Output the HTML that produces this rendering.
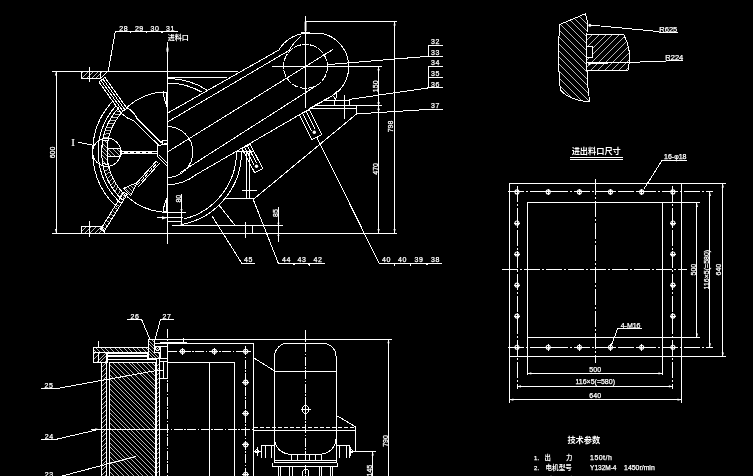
<!DOCTYPE html>
<html lang="zh"><head><meta charset="utf-8"><title>CAD drawing</title><style>
html,body{margin:0;padding:0;background:#000;}
body{width:753px;height:476px;overflow:hidden;}
svg{display:block;filter:grayscale(1)}
path,circle,ellipse{fill:none;stroke:#fff;stroke-width:1;shape-rendering:crispEdges}
.h{stroke-width:.72;stroke:#fff}
.hf{stroke-width:.72;stroke:#fff}
.hb{stroke-width:.9;stroke:#fff}
.d{stroke-dasharray:9 1.5 1.5 1.5}
.dl{stroke-dasharray:16 2 2 2}
.ho{shape-rendering:geometricPrecision;stroke-width:1.1}
.dd{stroke-dasharray:4 2}
.dp{stroke-dasharray:7 1.3}
.ts{font-family:"Liberation Serif",serif;fill:#fff;stroke:#fff;stroke-width:.2}
.fa{fill:#fff;stroke:none;shape-rendering:auto}
.t{font-family:"Liberation Sans","Noto Sans CJK SC",sans-serif;fill:#fff;stroke:#fff;stroke-width:.25}
.tc{font-family:"Liberation Sans","Noto Sans CJK SC",sans-serif;fill:#fff;stroke:none;font-weight:bold}
</style></head><body><svg width="753" height="476" viewBox="0 0 753 476"><rect width="753" height="476" fill="#000"/><defs><clipPath id="c1"><path d="M81.5 71.4L81.5 78.3L100.7 78.3L107.9 71.4Z"/></clipPath><clipPath id="c2"><path d="M81.5 233L81.5 226.3L101.5 226.3L105 233Z"/></clipPath><clipPath id="c3"><path d="M104 231.5L127.2 194.2L123.8 192L100.6 229.3Z"/></clipPath><clipPath id="c4"><path d="M123.6 188.4L130.6 195.8L137.1 182.5Z"/></clipPath><clipPath id="c5"><path d="M102.4 141L107.8 140L107.6 148.2L119.4 148.2L121.8 151.2L121.8 153.4L119.4 156.2L107.6 156.2L107.8 164.6L102.4 163.6L101.7 152.3Z"/></clipPath><clipPath id="c6"><path d="M559.9 24.4L585.3 13.8L587.5 21.5Q585.6 46 587 71Q587.6 88 589.7 102L578.7 100.3Q566 97 560.6 89.9Q559.3 84 559.3 77.8Q557.4 50 559.9 24.4Z"/></clipPath><clipPath id="c7"><path d="M586.5 34.5L623.8 34.5Q633 52 627.8 70.8L586.5 70.8Z"/></clipPath><clipPath id="c8"><path d="M93.4 347.3L148.6 347.3L148.6 352.6L93.4 352.6Z"/></clipPath><clipPath id="c9"><path d="M93.4 352.6L106.5 352.6L106.5 362.6L93.4 362.6Z"/></clipPath><clipPath id="c10"><path d="M101.7 362.6L106.5 362.6L106.5 480L101.7 480Z"/></clipPath><clipPath id="c11"><path d="M109.4 362.2L155 362.2L155 480L109.4 480Z"/></clipPath><clipPath id="c12"><path d="M156.6 361.7L159.3 361.7L159.3 480L156.6 480Z"/></clipPath><clipPath id="c13"><path d="M148.6 339.9L154.2 339.9L154.2 352.6L159.2 352.6L159.2 358.2L148.6 358.2Z"/></clipPath></defs>
<path d="M52.3 71.4L237.8 71.4"/>
<path d="M52.3 233.4L396.8 233.4"/>
<path d="M56 71.4L56 233"/>
<path class="fa" d="M56 71.4L54.9 75.4L57.1 75.4Z"/>
<path class="fa" d="M56 233L54.9 229L57.1 229Z"/>
<text class="t" x="55" y="152.5" font-size="7" text-anchor="middle" transform="rotate(-90 55 152.5)">600</text>
<path d="M167.5 42L167.5 244"/>
<ellipse class="fa" cx="167.5" cy="49.5" rx="1.1" ry="2.8"/>
<text class="tc" x="167.8" y="40.4" font-size="7" text-anchor="start">进料口</text>
<path d="M108 72.3L115.4 31L178 31"/>
<text class="t" x="123.7" y="31" font-size="7" text-anchor="middle" letter-spacing=".5">28</text>
<text class="t" x="139.3" y="31" font-size="7" text-anchor="middle" letter-spacing=".5">29</text>
<text class="t" x="154.9" y="31" font-size="7" text-anchor="middle" letter-spacing=".5">30</text>
<text class="t" x="170.4" y="31" font-size="7" text-anchor="middle" letter-spacing=".5">31</text>
<path d="M129.6 31L130.8 32.6L132 31"/>
<path d="M145.3 31L146.5 32.6L147.7 31"/>
<path d="M160.8 31L162 32.6L163.2 31"/>
<path d="M81.5 71.4L81.5 78.3L100.7 78.3L107.9 71.4"/>
<path d="M100.7 71.4L100.7 78.3"/>
<path class="h" clip-path="url(#c1)" d="M71.6 73.9L93.7 51.8M74 76.3L96.1 54.2M76.4 78.7L98.5 56.6M78.8 81.1L101 59M81.2 83.5L103.4 61.4M83.6 85.9L105.8 63.8M86 88.3L108.2 66.2M88.4 90.7L110.6 68.6M90.9 93.1L113 71M93.3 95.5L115.4 73.4M95.7 97.9L117.8 75.8"/>
<path d="M89.5 67L89.5 82"/>
<path d="M81.5 233L81.5 226.3L101.5 226.3L105 233"/>
<path class="h" clip-path="url(#c2)" d="M71.2 227.7L91.3 207.6M73.6 230.1L93.7 210M76 232.5L96.1 212.4M78.4 234.9L98.5 214.8M80.8 237.3L100.9 217.2M83.2 239.7L103.3 219.6M85.6 242.1L105.7 222M88 244.5L108.1 224.4M90.4 246.9L110.5 226.8M92.8 249.3L112.9 229.2M95.2 251.7L115.3 231.6"/>
<path d="M89.5 221.2L89.5 237.4"/>
<path d="M98.9 81.8L120.9 112.6"/>
<path d="M104.9 77.4L126.9 108.2"/>
<path d="M98.9 81.8L104.9 77.4"/>
<path d="M120.9 112.6L126.9 108.2"/>
<path d="M100.9 80.3L122.9 111.1"/>
<path d="M102.9 78.9L124.9 109.7"/>
<path d="M121.2 113.4Q127 118.6 133.9 121"/>
<path d="M127 107.7Q134.4 112 136.8 118.1"/>
<path d="M133.9 121L158.6 145.2"/>
<path d="M136.8 118.1L161.6 143"/>
<path d="M104 231.5L127.2 194.2"/>
<path d="M100.6 229.3L123.8 192"/>
<path d="M104 231.5L100.6 229.3"/>
<path d="M127.2 194.2L123.8 192"/>
<path class="h" clip-path="url(#c3)" d="M106.1 175.6L149.8 202.8M104.1 178.8L147.8 206M102 182L145.8 209.2M100 185.2L143.8 212.5M98 188.5L141.8 215.7M96 191.7L139.8 218.9M94 194.9L137.8 222.1M92 198.1L135.8 225.4M90 201.4L133.8 228.6M88 204.6L131.8 231.8M86 207.8L129.8 235M84 211L127.8 238.3M82 214.3L125.8 241.5M80 217.5L123.7 244.7M78 220.7L121.7 247.9"/>
<path d="M123.6 188.4L130.6 195.8L137.1 182.5Z"/>
<path class="h" clip-path="url(#c4)" d="M132.4 171.2L148.4 187.7M130.4 173.1L146.4 189.6M128.4 175.1L144.4 191.6M126.4 177L142.3 193.5M124.4 179L140.3 195.5M122.4 180.9L138.3 197.4M120.4 182.8L136.3 199.3M118.4 184.8L134.3 201.3M116.3 186.7L132.3 203.2M114.3 188.7L130.3 205.2M112.3 190.6L128.3 207.1"/>
<path d="M135.8 183.9L156.4 161"/>
<path d="M138.5 186.6L159.8 163"/>
<path class="dd" d="M137.2 185.2L158 162"/>
<path d="M117.4 207.6A74.8 74.8 0 0 1 111.5 102.4"/>
<path d="M120.7 203A69.2 69.2 0 0 1 116.1 105.7"/>
<path d="M122.6 200.1A65.8 65.8 0 0 1 119 107.5"/>
<path d="M125.9 195.8A60.4 60.4 0 0 1 123.3 110.8"/>
<path class="h" d="M124.8 194.7L122.6 200.1M122.4 192.2L119.9 197.5M120.2 189.5L117.4 194.6M118.1 186.7L115 191.7M116.2 183.8L112.8 188.6M114.4 180.8L110.8 185.4M112.8 177.7L109 182.1M111.5 174.5L107.3 178.7M110.3 171.3L105.9 175.2M109.2 167.9L104.7 171.6M109 137L103.2 137.9M110 133.6L104.2 134.2M111.1 130.4L105.3 130.6M112.5 127.1L106.6 127M114 124L108.2 123.6M115.7 121L109.9 120.2M117.5 118.1L111.8 116.9M119.6 115.2L113.9 113.8M121.8 112.5L116.2 110.8"/>
<path d="M126.8 107.6A60.2 60.2 0 0 1 163.8 91.9"/>
<path d="M126.8 196.4A60.2 60.2 0 0 0 162.3 212"/>
<path d="M163.7 92.4L166.9 92.4L166.9 106.5L165.2 102L163.9 97Z"/>
<path d="M163.7 211.8L166.9 211.8L166.9 198.4L165.2 202.5L163.9 207Z"/>
<circle cx="106.8" cy="152.2" r="14.1"/>
<text class="ts" x="73.2" y="146.4" font-size="11" text-anchor="middle">I</text>
<path d="M78.5 142.3L93.7 145.3"/>
<path d="M102.4 141L107.8 140L107.6 148.2L119.4 148.2L121.8 151.2L121.8 153.4L119.4 156.2L107.6 156.2L107.8 164.6L102.4 163.6L101.7 152.3Z"/>
<path class="h" clip-path="url(#c5)" d="M111.8 126.9L137.1 152.2M109.7 129L135 154.3M107.6 131.2L132.9 156.5M105.5 133.3L130.8 158.6M103.3 135.4L128.6 160.7M101.2 137.5L126.5 162.8M99.1 139.7L124.4 164.9M97 141.8L122.3 167.1M94.9 143.9L120.2 169.2M92.7 146L118 171.3M90.6 148.1L115.9 173.4M88.5 150.3L113.8 175.6M86.4 152.4L111.7 177.7"/>
<path d="M107.6 148.2L107.6 156.2"/>
<path d="M121 151.2L155.7 151.2"/>
<path d="M121 153.6L155.7 153.6"/>
<path class="dd" d="M124 152.4L154 152.4"/>
<path d="M161.2 141.8L162.6 140.5L166.9 140.5"/>
<path d="M162.6 140.5L162.6 144.6L166.9 144.6"/>
<path d="M157.8 144.6L157.1 146.6L157.1 156.2L166.7 165.7"/>
<path d="M157.8 146L166.9 143.3"/>
<path d="M158.8 154.6L166.9 162.8"/>
<path d="M155.7 151.2L157.1 151.2"/>
<path d="M155.7 153.6L157.1 153.6"/>
<path d="M167.5 77.9L226.8 77.9"/>
<path d="M167.5 78.5A73.5 73.5 0 0 1 207.3 90.2"/>
<path d="M167.5 83A69 69 0 0 1 201.6 92"/>
<path d="M167.5 113.2L279 49.9"/>
<path d="M167.5 122L289 50.5"/>
<path d="M167.5 152L333 49.4"/>
<path d="M179.9 172.8L317.1 85.2"/>
<path d="M167.5 184.8Q184 184.2 196 174.7L331.9 96"/>
<path d="M167.5 126.6A25.4 25.4 0 0 1 167.5 177.4"/>
<circle class="dp" cx="305.5" cy="66.4" r="22"/>
<path d="M272 66.3L382 66.3"/>
<path d="M305.5 16L305.5 107.5"/>
<rect class="fa" x="304.6" y="21.6" width="1.9" height="9.5"/>
<path d="M279 49.9A33 33 0 0 1 305.5 33.4L322 33.4A34 34 0 0 1 331.9 96"/>
<path d="M289 50.5Q293.5 42.5 301.5 35.7"/>
<path d="M301.5 34.3L301.5 32.2L309.4 32.2L309.4 34.3"/>
<path d="M305.5 21.6L397.2 21.6"/>
<path d="M394.6 21.6L394.6 233"/>
<path class="fa" d="M394.6 21.6L393.5 25.6L395.7 25.6Z"/>
<path class="fa" d="M394.6 233L393.5 229L395.7 229Z"/>
<text class="t" x="393.3" y="126.5" font-size="7" text-anchor="middle" transform="rotate(-90 393.3 126.5)">798</text>
<path d="M378.6 66.3L378.6 233"/>
<circle class="fa" cx="378.6" cy="69.8" r="1.15"/>
<circle class="fa" cx="378.6" cy="102.9" r="1.15"/>
<circle class="fa" cx="378.6" cy="109.5" r="1.15"/>
<path class="fa" d="M378.6 233L377.5 229L379.7 229Z"/>
<text class="t" x="377.6" y="86.3" font-size="7" text-anchor="middle" transform="rotate(-90 377.6 86.3)">150</text>
<text class="t" x="377.6" y="168.9" font-size="7" text-anchor="middle" transform="rotate(-90 377.6 168.9)">470</text>
<path d="M323.2 100.6L334.3 100.6"/>
<path d="M334.3 100.3L349.4 100.3L349.4 105.9L334.3 105.9Z"/>
<path d="M314.3 105.9L382 105.9"/>
<path d="M309.8 108.8L357.1 108.8"/>
<path d="M356.6 105.9L356.6 113.9"/>
<path d="M344.6 94.7L344.6 118.7"/>
<path d="M332.7 95.5L336.6 91.5L335.9 99.5Z"/>
<path d="M254.3 198.6L356.6 113.9"/>
<path d="M309.5 108.3L332.7 95.5"/>
<path d="M327.4 64.6L428.2 56.3"/>
<path d="M428.2 45.2L428.2 56.3"/>
<path d="M428.2 45.2L442.8 45.2"/>
<path d="M428.2 56.3L442.8 56.3"/>
<path d="M428.2 66.5L428.2 87.9"/>
<path d="M428.2 66.5L442.8 66.5"/>
<path d="M428.2 77.3L442.8 77.3"/>
<path d="M428.2 87.9L442.8 87.9"/>
<path d="M348.6 99.5L428.2 87.9"/>
<path d="M356.6 113.9L428.4 109.4L442.8 109.4"/>
<text class="t" x="435.5" y="43.9" font-size="7" text-anchor="middle" letter-spacing=".5">32</text>
<text class="t" x="435.5" y="55" font-size="7" text-anchor="middle" letter-spacing=".5">33</text>
<text class="t" x="435.5" y="65.2" font-size="7" text-anchor="middle" letter-spacing=".5">34</text>
<text class="t" x="435.5" y="76" font-size="7" text-anchor="middle" letter-spacing=".5">35</text>
<text class="t" x="435.5" y="86.6" font-size="7" text-anchor="middle" letter-spacing=".5">36</text>
<text class="t" x="435.5" y="108.1" font-size="7" text-anchor="middle" letter-spacing=".5">37</text>
<path d="M242 148.6L254.7 172.8L262.8 168.6L250.2 144.4Z"/>
<path d="M244.7 147.2L253.8 164.7"/>
<path d="M247.5 145.8L256.6 163.2"/>
<circle class="fa" cx="256.5" cy="166.2" r="1.7"/>
<path d="M299.3 114.8L311.7 139.5L321.7 134.5L309.3 109.8Z"/>
<path d="M302.5 113.2L311.5 131"/>
<path d="M306.1 111.4L315 129.2"/>
<circle class="fa" cx="314.3" cy="132.2" r="1.7"/>
<path d="M241.5 151.6A74 74 0 0 1 182.1 224.5"/>
<path d="M236.5 151.6A69 69 0 0 1 183.5 219.1"/>
<path d="M236.5 151.5L253.7 151.5"/>
<path d="M246.3 151.5L246.3 198.6"/>
<path d="M249.5 151.5L249.5 198.6"/>
<path d="M224.6 198.6L254.3 198.6"/>
<path d="M242.3 190.5L256.7 190.5"/>
<path d="M219 205.1L235.3 225.8"/>
<path d="M172 225.8L282.8 225.8"/>
<path d="M161.6 212.5L185.5 212.5"/>
<path d="M156.8 217.8L183.4 217.8"/>
<path d="M168 221.3L182 221.3"/>
<path d="M181.5 194L181.5 225.8"/>
<path class="fa" d="M181.5 212.5L180.4 209L182.6 209Z"/>
<path class="fa" d="M181.5 221.3L180.4 224.8L182.6 224.8Z"/>
<text class="t" x="180.9" y="198.7" font-size="7" text-anchor="middle" transform="rotate(-90 180.9 198.7)">80</text>
<path class="fa" d="M167.3 217.8L162 216.2L162 219.4Z"/>
<path d="M245.9 221.5L245.9 237.5"/>
<path d="M252.9 225.8L252.9 233"/>
<path d="M278.4 207L278.4 241.9"/>
<path class="fa" d="M278.4 225.8L277.3 222.8L279.5 222.8Z"/>
<path class="fa" d="M278.4 233L277.3 236L279.5 236Z"/>
<text class="t" x="277.9" y="213" font-size="7" text-anchor="middle" transform="rotate(-90 277.9 213)">85</text>
<path d="M212 216L241.9 263.4L254.9 263.4"/>
<text class="t" x="248.5" y="262.4" font-size="7" text-anchor="middle" letter-spacing=".5">45</text>
<path d="M252.9 198.6L278.4 263.4L325.3 263.4"/>
<text class="t" x="286.4" y="262.4" font-size="7" text-anchor="middle" letter-spacing=".5">44</text>
<text class="t" x="301.9" y="262.4" font-size="7" text-anchor="middle" letter-spacing=".5">43</text>
<text class="t" x="317.9" y="262.4" font-size="7" text-anchor="middle" letter-spacing=".5">42</text>
<path d="M292.6 263.4L293.8 265L295 263.4"/>
<path d="M308.1 263.4L309.3 265L310.5 263.4"/>
<path d="M316.7 137L379.2 263.4L442.1 263.4"/>
<text class="t" x="386.4" y="262.4" font-size="7" text-anchor="middle" letter-spacing=".5">40</text>
<text class="t" x="402.4" y="262.4" font-size="7" text-anchor="middle" letter-spacing=".5">40</text>
<text class="t" x="418.9" y="262.4" font-size="7" text-anchor="middle" letter-spacing=".5">39</text>
<text class="t" x="435.4" y="262.4" font-size="7" text-anchor="middle" letter-spacing=".5">38</text>
<path d="M393.3 263.4L394.5 265L395.7 263.4"/>
<path d="M409.3 263.4L410.5 265L411.7 263.4"/>
<path d="M425.8 263.4L427 265L428.2 263.4"/>
<path d="M559.9 24.4L585.3 13.8L587.5 21.5Q585.6 46 587 71Q587.6 88 589.7 102L578.7 100.3Q566 97 560.6 89.9Q559.3 84 559.3 77.8Q557.4 50 559.9 24.4Z"/>
<path class="h" clip-path="url(#c6)" d="M573 -10.9L641.5 57.6M569.5 -7.5L638.1 61.1M566.1 -4.1L634.7 64.5M562.7 -0.6L631.2 67.9M559.3 2.8L627.8 71.3M555.8 6.2L624.4 74.8M552.4 9.7L620.9 78.2M549 13.1L617.5 81.6M545.5 16.5L614.1 85.1M542.1 19.9L610.7 88.5M538.7 23.4L607.2 91.9M535.2 26.8L603.8 95.4M531.8 30.2L600.4 98.8M528.4 33.7L596.9 102.2M525 37.1L593.5 105.6M521.5 40.5L590.1 109.1M518.1 44L586.6 112.5M514.7 47.4L583.2 115.9M511.2 50.8L579.8 119.4M507.8 54.2L576.4 122.8M504.4 57.7L572.9 126.2"/>
<path d="M587.4 34.5L623.8 34.5Q633 52 627.8 70.8L586.8 70.8"/>
<path class="h" clip-path="url(#c7)" d="M562.8 50.1L606.2 6.7M566.2 53.6L609.7 10.1M569.7 57L613.1 13.6M573.2 60.5L616.6 17.1M576.6 64L620.1 20.5M580.1 67.4L623.5 24M583.6 70.9L627 27.5M587 74.4L630.5 30.9M590.5 77.8L633.9 34.4M594 81.3L637.4 37.9M597.4 84.8L640.9 41.3M600.9 88.2L644.3 44.8M604.4 91.7L647.8 48.3M607.8 95.2L651.3 51.7M611.3 98.6L654.7 55.2"/>
<rect x="586" y="46.9" width="6" height="11" fill="#000" stroke="none"/>
<path d="M586 46.9L592 46.9L592 57.9L586 57.9Z"/>
<path d="M587 62.8L629.6 62.8"/>
<circle class="fa" cx="589.9" cy="25.2" r="1.5"/>
<path d="M589.9 25L659.3 31.6"/>
<path d="M659.3 32.9L677.7 32.9"/>
<text class="t" x="668.3" y="32.2" font-size="7.5" text-anchor="middle">R625</text>
<circle class="fa" cx="589.4" cy="63.8" r="1.4"/>
<path d="M589 63.6L665.7 61.2"/>
<path d="M665.7 60.9L683.3 60.9"/>
<text class="t" x="674.3" y="60.2" font-size="7.5" text-anchor="middle">R224</text>
<text class="tc" x="596.2" y="154.3" font-size="8.2" text-anchor="middle">进出料口尺寸</text>
<path d="M569.8 157.4L622.7 157.4"/>
<path d="M569.8 159.5L622.7 159.5"/>
<path d="M509.4 183.5L725.8 183.5"/>
<path d="M509.4 356.4L725.8 356.4"/>
<path d="M509.4 183.5L509.4 402.9"/>
<path d="M681.5 183.5L681.5 402.9"/>
<path d="M527.3 202.9L699.9 202.9"/>
<path d="M527.3 337.4L699.9 337.4"/>
<path d="M527.3 202.9L527.3 374.9"/>
<path d="M662.5 202.9L662.5 374.9"/>
<path class="dl" d="M508 191.9L712.9 191.9"/>
<path class="dl" d="M508 347.2L712.9 347.2"/>
<path class="dl" d="M517.0 186L517.0 388.9"/>
<path class="dl" d="M672.9 186L672.9 388.9"/>
<path class="dl" d="M595.6 178.9L595.6 362.5"/>
<path class="dl" d="M502.2 269.3L686.9 269.3"/>
<circle class="ho" cx="517" cy="191.9" r="2"/>
<path d="M517 188.5L517 195.3"/>
<path d="M513.6 191.9L520.4 191.9"/>
<circle class="ho" cx="517" cy="223" r="2"/>
<path d="M517 219.6L517 226.4"/>
<path d="M513.6 223L520.4 223"/>
<circle class="ho" cx="517" cy="254" r="2"/>
<path d="M517 250.6L517 257.4"/>
<path d="M513.6 254L520.4 254"/>
<circle class="ho" cx="517" cy="285.1" r="2"/>
<path d="M517 281.7L517 288.5"/>
<path d="M513.6 285.1L520.4 285.1"/>
<circle class="ho" cx="517" cy="316.1" r="2"/>
<path d="M517 312.7L517 319.5"/>
<path d="M513.6 316.1L520.4 316.1"/>
<circle class="ho" cx="517" cy="347.2" r="2"/>
<path d="M517 343.8L517 350.6"/>
<path d="M513.6 347.2L520.4 347.2"/>
<circle class="ho" cx="548.2" cy="191.9" r="2"/>
<path d="M548.2 188.5L548.2 195.3"/>
<path d="M544.8 191.9L551.6 191.9"/>
<circle class="ho" cx="548.2" cy="347.2" r="2"/>
<path d="M548.2 343.8L548.2 350.6"/>
<path d="M544.8 347.2L551.6 347.2"/>
<circle class="ho" cx="579.4" cy="191.9" r="2"/>
<path d="M579.4 188.5L579.4 195.3"/>
<path d="M576 191.9L582.8 191.9"/>
<circle class="ho" cx="579.4" cy="347.2" r="2"/>
<path d="M579.4 343.8L579.4 350.6"/>
<path d="M576 347.2L582.8 347.2"/>
<circle class="ho" cx="610.5" cy="191.9" r="2"/>
<path d="M610.5 188.5L610.5 195.3"/>
<path d="M607.1 191.9L613.9 191.9"/>
<circle class="ho" cx="610.5" cy="347.2" r="2"/>
<path d="M610.5 343.8L610.5 350.6"/>
<path d="M607.1 347.2L613.9 347.2"/>
<circle class="ho" cx="641.7" cy="191.9" r="2"/>
<path d="M641.7 188.5L641.7 195.3"/>
<path d="M638.3 191.9L645.1 191.9"/>
<circle class="ho" cx="641.7" cy="347.2" r="2"/>
<path d="M641.7 343.8L641.7 350.6"/>
<path d="M638.3 347.2L645.1 347.2"/>
<circle class="ho" cx="672.9" cy="191.9" r="2"/>
<path d="M672.9 188.5L672.9 195.3"/>
<path d="M669.5 191.9L676.3 191.9"/>
<circle class="ho" cx="672.9" cy="223" r="2"/>
<path d="M672.9 219.6L672.9 226.4"/>
<path d="M669.5 223L676.3 223"/>
<circle class="ho" cx="672.9" cy="254" r="2"/>
<path d="M672.9 250.6L672.9 257.4"/>
<path d="M669.5 254L676.3 254"/>
<circle class="ho" cx="672.9" cy="285.1" r="2"/>
<path d="M672.9 281.7L672.9 288.5"/>
<path d="M669.5 285.1L676.3 285.1"/>
<circle class="ho" cx="672.9" cy="316.1" r="2"/>
<path d="M672.9 312.7L672.9 319.5"/>
<path d="M669.5 316.1L676.3 316.1"/>
<circle class="ho" cx="672.9" cy="347.2" r="2"/>
<path d="M672.9 343.8L672.9 350.6"/>
<path d="M669.5 347.2L676.3 347.2"/>
<path d="M527.3 373.4L662.5 373.4"/>
<path class="fa" d="M527.3 373.4L531.3 372.3L531.3 374.5Z"/>
<path class="fa" d="M662.5 373.4L658.5 372.3L658.5 374.5Z"/>
<text class="t" x="595.2" y="372" font-size="7" text-anchor="middle">500</text>
<path d="M517 386.4L672.9 386.4"/>
<path class="fa" d="M517 386.4L521 385.3L521 387.5Z"/>
<path class="fa" d="M672.9 386.4L668.9 385.3L668.9 387.5Z"/>
<text class="t" x="595.2" y="384.2" font-size="7" text-anchor="middle">116×5(=580)</text>
<path d="M509.4 399.7L681.5 399.7"/>
<path class="fa" d="M509.4 399.7L513.4 398.6L513.4 400.8Z"/>
<path class="fa" d="M681.5 399.7L677.5 398.6L677.5 400.8Z"/>
<text class="t" x="595.2" y="398.4" font-size="7" text-anchor="middle">640</text>
<path d="M696.9 202.9L696.9 337.4"/>
<path class="fa" d="M696.9 202.9L695.8 206.9L698 206.9Z"/>
<path class="fa" d="M696.9 337.4L695.8 333.4L698 333.4Z"/>
<text class="t" x="695.6" y="269.6" font-size="7" text-anchor="middle" transform="rotate(-90 695.6 269.6)">500</text>
<path d="M709.9 191.9L709.9 347.2"/>
<path class="fa" d="M709.9 191.9L708.8 195.9L711 195.9Z"/>
<path class="fa" d="M709.9 347.2L708.8 343.2L711 343.2Z"/>
<text class="t" x="708.6" y="269.6" font-size="7" text-anchor="middle" transform="rotate(-90 708.6 269.6)">116×5(=580)</text>
<path d="M722.8 183.5L722.8 356.4"/>
<path class="fa" d="M722.8 183.5L721.7 187.5L723.9 187.5Z"/>
<path class="fa" d="M722.8 356.4L721.7 352.4L723.9 352.4Z"/>
<text class="t" x="721.5" y="269.6" font-size="7" text-anchor="middle" transform="rotate(-90 721.5 269.6)">640</text>
<path d="M644 188.9L662.3 160L686.9 160"/>
<text class="t" x="675.3" y="159.2" font-size="7" text-anchor="middle">16-φ18</text>
<path d="M610.7 347L617.7 328.6L642 328.6"/>
<text class="t" x="630.6" y="327.8" font-size="7" text-anchor="middle">4-M16</text>
<text class="tc" x="583.8" y="443.4" font-size="8.2" text-anchor="middle">技术参数</text>
<text class="t" x="536.6" y="460.2" font-size="6" text-anchor="middle">1.</text>
<text class="tc" x="547.6" y="460.2" font-size="6.4" text-anchor="middle">出</text>
<text class="tc" x="569.3" y="460.2" font-size="6.4" text-anchor="middle">力</text>
<text class="t" x="590.1" y="460.2" font-size="7" text-anchor="start" letter-spacing=".45">150t/h</text>
<text class="t" x="536.6" y="470.2" font-size="6" text-anchor="middle">2.</text>
<text class="tc" x="545.5" y="470.2" font-size="6.6" text-anchor="start">电机型号</text>
<text class="t" x="590.1" y="470.2" font-size="6.5" text-anchor="start">Y132M-4</text>
<text class="t" x="624.1" y="470.2" font-size="6.9" text-anchor="start">1450r/min</text>
<text class="tc" x="547" y="481.6" font-size="6.4" text-anchor="start">功</text>
<text class="tc" x="568" y="481.6" font-size="6.4" text-anchor="start">率</text>
<path d="M127.1 319.1L141.4 319.1L150.2 339.9"/>
<text class="t" x="135" y="318.6" font-size="7" text-anchor="middle" letter-spacing=".5">26</text>
<path d="M173.8 319.1L160.6 319.1L155 339.9"/>
<text class="t" x="167" y="318.6" font-size="7" text-anchor="middle" letter-spacing=".5">27</text>
<path d="M93.4 347.3L148.6 347.3L148.6 352.6L93.4 352.6Z"/>
<path class="h" clip-path="url(#c8)" d="M122.6 306.3L164.6 348.3M120.3 308.6L162.4 350.6M118.1 310.8L160.1 352.9M115.8 313.1L157.9 355.1M113.6 315.4L155.6 357.4M111.3 317.6L153.3 359.7M109 319.9L151.1 361.9M106.8 322.1L148.8 364.2M104.5 324.4L146.5 366.4M102.2 326.7L144.3 368.7M100 328.9L142 371M97.7 331.2L139.8 373.2M95.5 333.5L137.5 375.5M93.2 335.7L135.2 377.8M90.9 338L133 380M88.7 340.2L130.7 382.3M86.4 342.5L128.4 384.5M84.1 344.8L126.2 386.8M81.9 347L123.9 389.1M79.6 349.3L121.7 391.3M77.4 351.6L119.4 393.6"/>
<path d="M93.4 352.6L106.5 352.6L106.5 362.6L93.4 362.6Z"/>
<path class="h" clip-path="url(#c9)" d="M83.7 355.8L98.1 341.3M85.9 358.1L100.4 343.6M88.2 360.3L102.7 345.8M90.4 362.6L104.9 348.1M92.7 364.8L107.2 350.4M95 367.1L109.5 352.6M97.2 369.4L111.7 354.9M99.5 371.6L114 357.1M101.8 373.9L116.2 359.4"/>
<path d="M98.5 340.7L98.5 347.3"/>
<path d="M98.5 352.6L98.5 362.6"/>
<path d="M107.6 353.3L147.8 353.3"/>
<path d="M107.6 355.9L147.8 355.9"/>
<path d="M107.6 356.7L147.8 356.7"/>
<path d="M107.6 359.5L156 359.5"/>
<path d="M147.8 352.6L147.8 359.5"/>
<path d="M107.6 352.6L107.6 362.6"/>
<path d="M101.7 480L101.7 362.6L106.5 362.6L106.5 480"/>
<path d="M101 362.6L101 480"/>
<path class="h" clip-path="url(#c10)" d="M16.8 419.9L102.7 334M19.1 422.3L105.1 336.3M21.5 424.6L107.4 338.7M23.8 426.9L109.7 341M26.1 429.3L112.1 343.3M28.5 431.6L114.4 345.7M30.8 433.9L116.7 348M33.1 436.3L119.1 350.3M35.5 438.6L121.4 352.7M37.8 440.9L123.7 355M40.1 443.3L126.1 357.3M42.5 445.6L128.4 359.7M44.8 447.9L130.7 362M47.1 450.3L133.1 364.3M49.5 452.6L135.4 366.7M51.8 454.9L137.7 369M54.1 457.3L140.1 371.3M56.5 459.6L142.4 373.7M58.8 461.9L144.7 376M61.1 464.3L147.1 378.3M63.5 466.6L149.4 380.7M65.8 468.9L151.7 383M68.1 471.3L154.1 385.3M70.5 473.6L156.4 387.7M72.8 475.9L158.7 390M75.1 478.3L161.1 392.3M77.5 480.6L163.4 394.7M79.8 482.9L165.7 397M82.1 485.3L168.1 399.3M84.5 487.6L170.4 401.7M86.8 489.9L172.7 404M89.1 492.3L175.1 406.3M91.5 494.6L177.4 408.7M93.8 496.9L179.7 411M96.1 499.3L182.1 413.3M98.5 501.6L184.4 415.7M100.8 503.9L186.7 418M103.1 506.3L189.1 420.3M105.5 508.6L191.4 422.7"/>
<path d="M109.4 480L109.4 362.2L155 362.2L155 480"/>
<path class="h" clip-path="url(#c11)" d="M132.2 328.9L224.4 421.1M129.8 331.4L221.9 423.5M127.4 333.8L219.5 425.9M124.9 336.2L217.1 428.4M122.5 338.6L214.7 430.8M120.1 341.1L212.2 433.2M117.7 343.5L209.8 435.6M115.2 345.9L207.4 438.1M112.8 348.3L205 440.5M110.4 350.8L202.5 442.9M108 353.2L200.1 445.3M105.5 355.6L197.7 447.8M103.1 358L195.3 450.2M100.7 360.5L192.8 452.6M98.3 362.9L190.4 455M95.8 365.3L188 457.5M93.4 367.7L185.6 459.9M91 370.2L183.1 462.3M88.6 372.6L180.7 464.7M86.1 375L178.3 467.2M83.7 377.5L175.8 469.6M81.3 379.9L173.4 472M78.8 382.3L171 474.5M76.4 384.7L168.6 476.9M74 387.2L166.1 479.3M71.6 389.6L163.7 481.7M69.1 392L161.3 484.2M66.7 394.4L158.9 486.6M64.3 396.9L156.4 489M61.9 399.3L154 491.4M59.4 401.7L151.6 493.9M57 404.1L149.2 496.3M54.6 406.6L146.7 498.7M52.2 409L144.3 501.1M49.7 411.4L141.9 503.6M47.3 413.8L139.5 506M44.9 416.3L137 508.4M42.5 418.7L134.6 510.8M40 421.1L132.2 513.3"/>
<path d="M156.6 480L156.6 358.2L159.3 358.2L159.3 480"/>
<path class="h" clip-path="url(#c12)" d="M70.4 419.8L156.9 333.3M72.7 422.1L159.2 335.6M75 424.4L161.5 337.9M77.4 426.8L163.9 340.3M79.7 429.1L166.2 342.6M82 431.4L168.5 344.9M84.4 433.8L170.9 347.3M86.7 436.1L173.2 349.6M89 438.4L175.5 351.9M91.4 440.8L177.9 354.3M93.7 443.1L180.2 356.6M96 445.4L182.5 358.9M98.4 447.8L184.9 361.3M100.7 450.1L187.2 363.6M103 452.4L189.5 365.9M105.4 454.8L191.9 368.3M107.7 457.1L194.2 370.6M110 459.4L196.5 372.9M112.4 461.8L198.9 375.3M114.7 464.1L201.2 377.6M117 466.4L203.5 379.9M119.4 468.8L205.9 382.3M121.7 471.1L208.2 384.6M124 473.4L210.5 386.9M126.4 475.8L212.9 389.3M128.7 478.1L215.2 391.6M131 480.4L217.5 393.9M133.4 482.8L219.9 396.3M135.7 485.1L222.2 398.6M138 487.4L224.5 400.9M140.4 489.8L226.9 403.3M142.7 492.1L229.2 405.6M145 494.4L231.5 407.9M147.4 496.8L233.9 410.3M149.7 499.1L236.2 412.6M152 501.4L238.5 414.9M154.4 503.8L240.9 417.3M156.7 506.1L243.2 419.6M159 508.4L245.5 421.9"/>
<path d="M148.6 339.9L154.2 339.9L154.2 352.6L159.2 352.6L159.2 358.2L148.6 358.2Z"/>
<path class="h" clip-path="url(#c13)" d="M155.2 330L173 347.8M153.5 331.7L171.3 349.5M151.8 333.4L169.6 351.2M150.1 335.1L167.9 352.9M148.4 336.8L166.2 354.5M146.7 338.5L164.5 356.2M145 340.2L162.8 357.9M143.3 341.9L161.1 359.6M141.6 343.6L159.4 361.3M139.9 345.2L157.7 363M138.2 346.9L156 364.7M136.5 348.6L154.3 366.4M134.8 350.3L152.6 368.1"/>
<circle cx="157.5" cy="348.3" r="2.3"/>
<path class="h" d="M156 346.8L159 349.8M159 346.8L156 349.8"/>
<path d="M154.2 343.1L160.6 343.1"/>
<path d="M150.2 339.3L392.2 339.3"/>
<path d="M155 343.5L253.8 343.5"/>
<path d="M183.9 338L183.9 342.3"/>
<path d="M160 342L187 342"/>
<path d="M160.6 346L167 346L167 358.2L160.6 358.2Z"/>
<path d="M159.8 361.7L167 361.7L167 378.9L159.8 378.9"/>
<path d="M158.2 370.2L163.2 370.2"/>
<path d="M163.2 361.7L163.2 378.9"/>
<path d="M159.3 361.7L168 361.7"/>
<path class="d" d="M167.4 329L167.4 476"/>
<path class="d" d="M168 351.3L250.8 351.3"/>
<path class="d" d="M245.7 346L245.7 476"/>
<path d="M91 429.3L160 429.3"/>
<path class="d" d="M160 429.3L253.7 429.3"/>
<path class="fa" d="M99.2 429.3L95.2 428.3L95.2 430.3Z"/>
<path d="M168 362.3L234.8 362.3"/>
<path d="M234.8 362.3L234.8 476"/>
<path d="M209.3 362.3L209.3 476"/>
<path d="M253.8 343.5L253.8 476"/>
<circle class="ho" cx="182.5" cy="351.3" r="2.1"/>
<path d="M179.1 351.3L185.9 351.3"/>
<path d="M182.5 347.9L182.5 354.7"/>
<circle class="ho" cx="214.3" cy="351.3" r="2.1"/>
<path d="M210.9 351.3L217.7 351.3"/>
<path d="M214.3 347.9L214.3 354.7"/>
<circle class="ho" cx="245.7" cy="351.3" r="2.1"/>
<path d="M242.3 351.3L249.1 351.3"/>
<path d="M245.7 347.9L245.7 354.7"/>
<circle class="ho" cx="245.7" cy="382.2" r="2.1"/>
<path d="M242.3 382.2L249.1 382.2"/>
<path d="M245.7 378.8L245.7 385.6"/>
<circle class="ho" cx="245.7" cy="413.3" r="2.1"/>
<path d="M242.3 413.3L249.1 413.3"/>
<path d="M245.7 409.9L245.7 416.7"/>
<circle class="ho" cx="245.7" cy="444.7" r="2.1"/>
<path d="M242.3 444.7L249.1 444.7"/>
<path d="M245.7 441.3L245.7 448.1"/>
<circle class="ho" cx="245.7" cy="474.3" r="2.1"/>
<path d="M242.3 474.3L249.1 474.3"/>
<path d="M245.7 470.9L245.7 477.7"/>
<path d="M41 388.9L54.7 388.9L158.2 370.2"/>
<text class="t" x="48.9" y="388.4" font-size="7" text-anchor="middle" letter-spacing=".5">25</text>
<path d="M41.3 439.1L57.1 439.1L98.9 429.4"/>
<text class="t" x="49.2" y="438.6" font-size="7" text-anchor="middle" letter-spacing=".5">24</text>
<path d="M41.3 477.6L56 477.6L136.1 456.4"/>
<text class="t" x="49.2" y="477.1" font-size="7" text-anchor="middle" letter-spacing=".5">23</text>
<path d="M274.5 439L274.5 356.7A13.5 13.5 0 0 1 288.0 343.2L322.6 343.2A13.5 13.5 0 0 1 336.1 356.7L336.1 439"/>
<path d="M274.5 371.8L336.1 371.8"/>
<path d="M274.5 439Q276.0 452 288.7 454.2L321.4 454.2Q334.6 452 336.1 439"/>
<path class="d" d="M305.6 329.5L305.6 476"/>
<ellipse cx="305.6" cy="409.6" rx="3.3" ry="4" fill="none" stroke="#fff"/>
<path d="M305.6 403.5L305.6 415.5"/>
<path d="M300.6 409.6L310.6 409.6"/>
<path d="M253.8 357.9L274.5 370.9"/>
<path d="M336.1 415.3L355.3 426.6L355.3 451.4"/>
<path class="dd" d="M253.7 427.7L355.3 427.7"/>
<path d="M253.7 430.7L355.3 430.7"/>
<path d="M274.5 439L274.5 462.7"/>
<path d="M336.1 439L336.1 462.7"/>
<path d="M261.6 445.1L274.5 445.1"/>
<path d="M336.1 445.1L349.7 445.1"/>
<path d="M274.5 460.5L336.1 460.5"/>
<path d="M274.5 462.7L336.1 462.7"/>
<path d="M272.9 466.8L337.2 466.8"/>
<path d="M272.9 462.7L272.9 466.8"/>
<path d="M337.2 462.7L337.2 466.8"/>
<path d="M261.6 445.1L261.6 458.2"/>
<path d="M265 445.1L265 458.2"/>
<path d="M271.8 445.1L271.8 458.2"/>
<path d="M339.5 445.1L339.5 458.2"/>
<path d="M346.3 445.1L346.3 458.2"/>
<path d="M349.7 445.1L349.7 458.2"/>
<circle cx="257.1" cy="451.4" r="1.7"/>
<path d="M257.1 447L257.1 456"/>
<circle cx="350.8" cy="451.4" r="1.7"/>
<path d="M350.8 447L350.8 456"/>
<path d="M252.6 451.4L261.6 451.4"/>
<path d="M349.7 451.4L375.6 451.4"/>
<path d="M291 454.2L291 460.5"/>
<path d="M297.7 454.2L297.7 460.5"/>
<path d="M309 454.2L309 460.5"/>
<path d="M315 454.2L315 460.5"/>
<path d="M321.4 454.2L321.4 460.5"/>
<path d="M278 466.8L278 476"/>
<path d="M280.8 466.8L280.8 476"/>
<path d="M289.8 466.8L289.8 476"/>
<path d="M292 466.8L292 476"/>
<path d="M319.2 466.8L319.2 476"/>
<path d="M321.4 466.8L321.4 476"/>
<path d="M330.5 466.8L330.5 476"/>
<path d="M332.7 466.8L332.7 476"/>
<ellipse cx="305.6" cy="473.2" rx="3.3" ry="4" fill="none" stroke="#fff"/>
<path d="M388.5 339.3L388.5 476"/>
<path class="fa" d="M388.5 339.3L387.4 343.3L389.6 343.3Z"/>
<text class="t" x="387.6" y="441" font-size="7" text-anchor="middle" transform="rotate(-90 387.6 441)">790</text>
<path d="M372.7 451.4L372.7 476"/>
<path class="fa" d="M372.7 451.4L371.6 455.4L373.8 455.4Z"/>
<text class="t" x="371.6" y="470.6" font-size="7" text-anchor="middle" transform="rotate(-90 371.6 470.6)">145</text>
</svg></body></html>
